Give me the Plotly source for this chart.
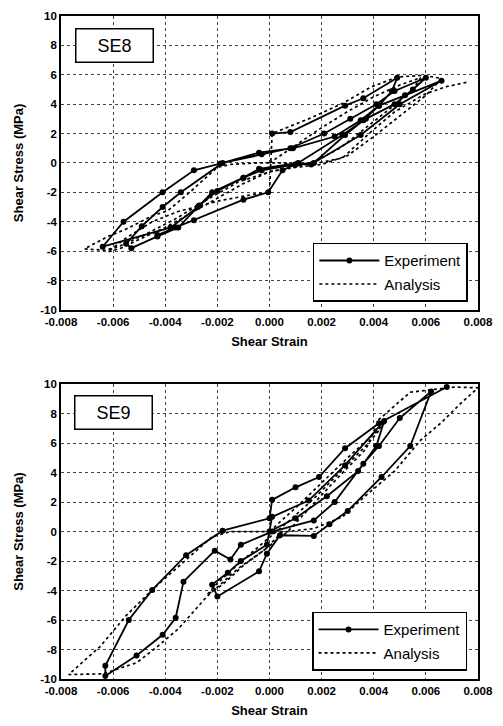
import plotly.graph_objects as go

# ---------------- data ----------------
# SE8 experiment (strain, stress MPa)
se8_exp_strain = [0.0001, 0.0008, 0.0029, 0.0036, 0.0049, 0.0047, 0.0042, 0.0036, 0.0029, 0.0017,
                  0.0010, -0.0003, -0.0010, -0.0020, -0.0027, -0.0035, -0.0043, -0.0053, -0.0055,
                  -0.0049, -0.0041, -0.0034, -0.0018, -0.0003, 0.0008, 0.0021, 0.0031, 0.0041,
                  0.0048, 0.0060, 0.0055, 0.0048, 0.0037, 0.0028, 0.0011, -0.0004, -0.0010,
                  -0.0022, -0.00275, -0.0038, -0.0064, -0.0056, -0.0041, -0.0029, -0.0019,
                  -0.0004, 0.0009, 0.0025, 0.0035, 0.0042, 0.0052, 0.0066, 0.0050, 0.0035,
                  0.0016, 0.0010, 0.0005, -0.00005, -0.0010, -0.0029, -0.0036, -0.0043]
se8_exp_stress = [2.0, 2.1, 3.9, 4.4, 5.8, 4.9, 3.9, 2.9, 1.9, 0.0,
                  -0.1, -0.5, -1.0, -1.9, -2.9, -4.4, -5.0, -5.8, -5.5,
                  -4.3, -3.0, -2.0, 0.0, 0.6, 1.0, 2.0, 3.0, 4.0,
                  4.9, 5.8, 5.0, 4.0, 3.0, 1.9, 0.0, -0.4, -1.0,
                  -2.0, -3.0, -4.4, -5.7, -4.0, -2.0, -0.5, -0.05,
                  0.7, 1.0, 1.8, 2.9, 3.9, 4.6, 5.6, 4.0, 1.9,
                  -0.1, -0.1, -0.5, -2.0, -2.5, -3.9, -4.4, -4.9]

# SE8 analysis
se8_ana_strain = [0.0000, 0.0010, 0.0020, 0.0030, 0.0040, 0.0050, 0.0058, 0.0055, 0.0047, 0.0037,
                  0.0027, 0.0016, 0.0008, 0.0000, -0.0010, -0.0020, -0.0030, -0.0040, -0.0050,
                  -0.0057, -0.0062, -0.0055, -0.0045, -0.0035, -0.0020, -0.0005, 0.0000, 0.0001,
                  0.0015, 0.0028, 0.0039, 0.0049, 0.0059, 0.0066, 0.0060, 0.0050, 0.0040, 0.0030,
                  0.0020, 0.0010, 0.0000, -0.0012, -0.0024, -0.0036, -0.0048, -0.0058, -0.0063,
                  -0.0071, -0.0062, -0.0055, -0.0045, -0.0039, -0.0030, -0.0020, -0.0015, -0.0005,
                  0.0005, 0.0016, 0.0028, 0.0039, 0.0048, 0.0060, 0.0068, 0.0076]
se8_ana_stress = [0.0, 1.2, 2.4, 3.5, 4.5, 5.3, 5.8, 5.0, 3.8, 2.4,
                  1.0, 0.0, -0.3, -0.6, -1.4, -2.4, -3.4, -4.4, -5.2,
                  -5.8, -6.05, -5.1, -4.0, -3.3, -2.6, -2.1, -2.0, 2.0,
                  3.0, 4.05, 5.17, 5.85, 5.96, 5.75, 4.6, 3.2, 1.8, 0.5,
                  -0.1, -0.3, -0.6, -1.3, -2.5, -3.8, -4.9, -5.7, -5.94,
                  -5.85, -5.0, -4.5, -3.6, -3.25, -1.9, -0.3, -0.1, 0.0,
                  0.0, -0.1, 0.34, 2.13, 3.48, 4.72, 5.2, 5.5]

# SE9 experiment
se9_exp_strain = [0.0000, 0.0010, 0.0022, 0.0034, 0.0041, 0.0044, 0.0029, 0.0015, 0.0001, -0.0001,
                  -0.0011, -0.0016, -0.0022, -0.0020, -0.0004, -0.0001, 0.0004, 0.0017, 0.0023,
                  0.0030, 0.0043, 0.0054, 0.0062, 0.0050, 0.0042, 0.0036, 0.0025, 0.0017, 0.0001,
                  -0.0011, -0.0015, -0.0021, -0.0033, -0.0036, -0.0041, -0.0051, -0.0063, -0.0063,
                  -0.0054, -0.0045, -0.0032, -0.0018, 0.0000, 0.0001, 0.0010, 0.0019, 0.0029,
                  0.0042, 0.0068]
se9_exp_stress = [0.0, 0.9, 2.4, 4.1, 5.8, 7.5, 4.5, 2.1, 1.0, -0.9,
                  -2.0, -2.8, -3.6, -4.4, -2.7, -1.5, -0.25, -0.3, 0.5,
                  1.4, 3.7, 5.8, 9.5, 7.7, 5.8, 4.6, 2.0, 0.75, 0.0,
                  -0.9, -1.9, -1.3, -3.4, -5.85, -7.0, -8.4, -9.8, -9.1,
                  -6.0, -3.96, -1.6, 0.06, 0.9, 2.15, 3.0, 3.7, 5.65,
                  7.35, 9.8]

# SE9 analysis
se9_ana_strain = [0.0000, 0.0010, 0.0020, 0.0030, 0.0040, 0.0045, 0.0038, 0.0028, 0.0018, 0.0008,
                  0.0000, -0.0010, -0.0020, -0.0024, -0.0018, -0.0010, -0.0002, 0.0007, 0.0017,
                  0.0027, 0.0037, 0.0042, 0.0054, 0.0061, 0.0071, 0.0080, 0.0074, 0.0066, 0.0058,
                  0.0048, 0.0036, 0.0028, 0.0017, 0.0007, -0.0015, -0.0022, -0.0032, -0.0045,
                  -0.0055, -0.0065, -0.0077, -0.0064, -0.0051, -0.0043, -0.0035, -0.0024, -0.0012,
                  -0.0002, 0.0005]
se9_ana_stress = [0.0, 1.6, 3.3, 5.0, 6.6, 7.5, 6.0, 4.2, 2.4, 0.8,
                  -0.4, -1.9, -3.5, -4.3, -3.6, -2.3, -1.25, 0.0, 1.9,
                  3.8, 5.6, 7.6, 9.45, 9.6, 9.8, 9.75, 8.8, 7.4, 6.2,
                  4.1, 2.3, 1.0, 0.2, 0.0, 0.0, -0.35, -1.9, -3.95,
                  -5.7, -7.8, -9.7, -9.65, -8.9, -7.8, -6.6, -4.4, -2.5,
                  -1.25, 0.0]

x_tick_vals = [-0.008, -0.006, -0.004, -0.002, 0.0, 0.002, 0.004, 0.006, 0.008]
x_tick_text = ["-0.008", "-0.006", "-0.004", "-0.002", "0.000", "0.002", "0.004", "0.006", "0.008"]
y_tick_vals = [-10, -8, -6, -4, -2, 0, 2, 4, 6, 8, 10]
y_tick_text = ["-10", "-8", "-6", "-4", "-2", "0", "2", "4", "6", "8", "10"]

panel_labels = ["SE8", "SE9"]
x_title = "Shear Strain"
y_title = "Shear Stress (MPa)"

# ---------------- figure ----------------
FONT = "Liberation Sans, Arial, sans-serif"
fig = go.Figure()

panels = [
    (se8_exp_strain, se8_exp_stress, se8_ana_strain, se8_ana_stress, "x", "y", "legend", "a"),
    (se9_exp_strain, se9_exp_stress, se9_ana_strain, se9_ana_stress, "x2", "y2", "legend2", "b"),
]
for ex, ey, ax, ay, xa, ya, lg, g in panels:
    fig.add_trace(go.Scatter(x=ax, y=ay, mode="lines", name="Analysis",
                             line=dict(color="black", width=1.7, dash="dot"),
                             xaxis=xa, yaxis=ya, legend=lg, legendrank=2,
                             legendgroup=g + "2"))
    fig.add_trace(go.Scatter(x=ex, y=ey, mode="lines+markers", name="Experiment",
                             line=dict(color="black", width=1.8),
                             marker=dict(color="black", size=6),
                             xaxis=xa, yaxis=ya, legend=lg, legendrank=1,
                             legendgroup=g + "1"))

axis_common = dict(
    range=[-0.008, 0.008], tickvals=x_tick_vals, ticktext=x_tick_text,
    showgrid=True, gridcolor="#444", griddash="dot", gridwidth=1,
    zeroline=False, showline=True, linecolor="black", linewidth=1.6, mirror=True,
    ticks="", tickfont=dict(family=FONT, size=11.5, color="black", weight="bold"),
    title=dict(text=x_title, font=dict(family=FONT, size=13, color="black", weight="bold"), standoff=10),
)
yaxis_common = dict(
    range=[-10, 10], tickvals=y_tick_vals, ticktext=y_tick_text,
    showgrid=True, gridcolor="#444", griddash="dot", gridwidth=1,
    zeroline=False, showline=True, linecolor="black", linewidth=1.6, mirror=True,
    ticks="", tickfont=dict(family=FONT, size=11.5, color="black", weight="bold"),
    title=dict(text=y_title, font=dict(family=FONT, size=13, color="black", weight="bold"), standoff=14),
)

top_dom = [0.5567, 1.0]
bot_dom = [0.0, 0.4448]

legend_common = dict(
    bgcolor="white", bordercolor="black", borderwidth=1.5,
    font=dict(family=FONT, size=15, color="black"),
    xanchor="left", yanchor="top", tracegroupgap=1, itemwidth=60,
    traceorder="grouped", entrywidth=104, entrywidthmode="pixels",
)

fig.update_layout(
    width=503, height=726,
    margin=dict(l=61, r=18, t=10, b=46),
    paper_bgcolor="white", plot_bgcolor="white",
    showlegend=True,
    xaxis=dict(axis_common, domain=[0, 1], anchor="y"),
    yaxis=dict(yaxis_common, domain=top_dom, anchor="x"),
    xaxis2=dict(axis_common, domain=[0, 1], anchor="y2"),
    yaxis2=dict(yaxis_common, domain=bot_dom, anchor="x2"),
    legend=dict(legend_common, x=0.604, y=0.658),
    legend2=dict(legend_common, x=0.602, y=0.1015),
    annotations=[
        dict(text=panel_labels[0], xref="paper", yref="paper", x=0.033, y=0.982,
             xanchor="left", yanchor="top", showarrow=False, width=74, height=30,
             font=dict(family=FONT, size=18, color="black"),
             bordercolor="black", borderwidth=1.5, borderpad=1, bgcolor="white"),
        dict(text=panel_labels[1], xref="paper", yref="paper", x=0.031, y=0.428,
             xanchor="left", yanchor="top", showarrow=False, width=74, height=30,
             font=dict(family=FONT, size=18, color="black"),
             bordercolor="black", borderwidth=1.5, borderpad=1, bgcolor="white"),
    ],
)

fig.write_html("out.html", config={"displayModeBar": False},
               post_script="document.body.style.margin='0';")
